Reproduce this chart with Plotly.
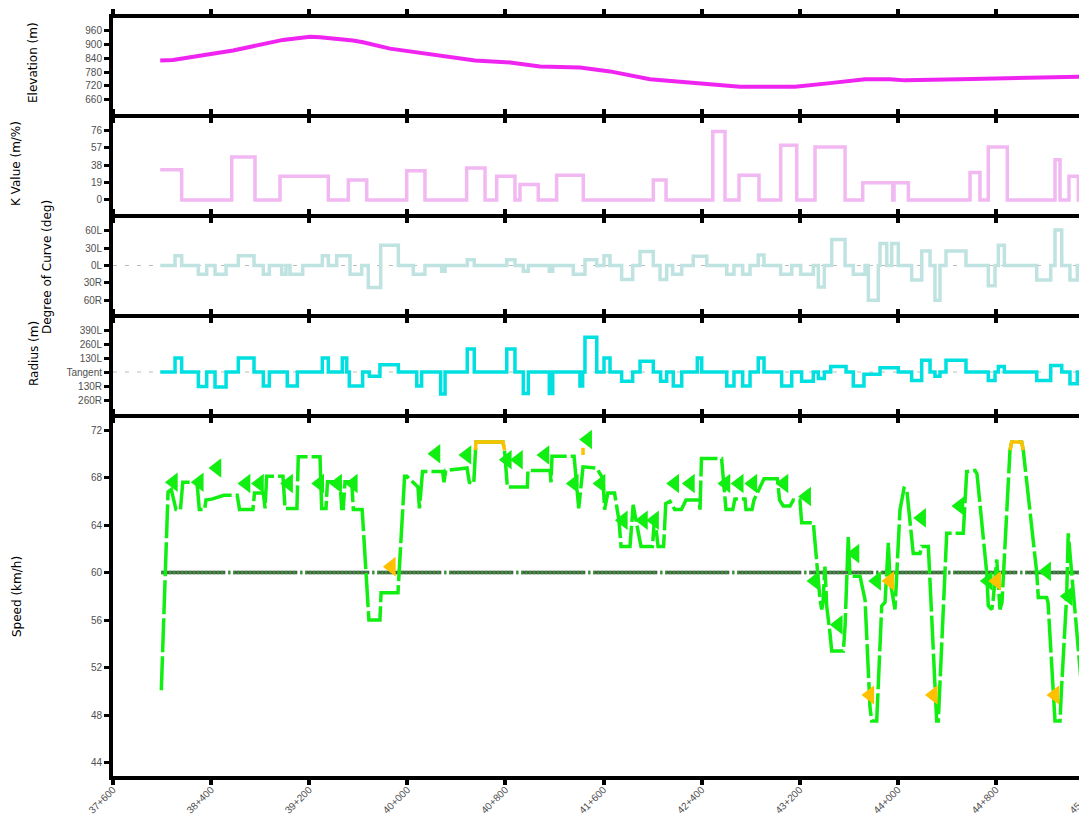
import plotly.graph_objects as go

# ---------------- data ----------------
tick_ch = [37600, 38400, 39200, 40000, 40800, 41600, 42400, 43200, 44000, 44800, 45600]
tick_lbl = ["37+600", "38+400", "39+200", "40+000", "40+800", "41+600",
            "42+400", "43+200", "44+000", "44+800", "45+600"]

elev_ch = [37985, 38089, 38579, 38742, 38986, 39207, 39288, 39557, 39639, 39859,
           40104, 40348, 40552, 40838, 41082, 41408, 41653, 41979, 42224, 42469,
           42713, 43162, 43447, 43733, 43936, 44059, 44507, 44833, 45160, 45486]
elev_m = [830, 833, 874, 891, 920, 934, 932, 917, 910, 882,
          864, 847, 830, 822, 804, 800, 783, 749, 740, 727,
          716, 716, 732, 749, 749, 744, 749, 753, 760, 760]

k_ch = [37985, 38160, 38568, 38758, 38962, 39356, 39519, 39669, 39995, 40144,
        40484, 40634, 40729, 40878, 40919, 41068, 41218, 41435, 42006, 42110,
        42491, 42591, 42705, 42868, 43045, 43176, 43325, 43570, 43714, 43959,
        43969, 44086, 44589, 44670, 44738, 44893, 45282, 45323, 45396, 45472, 45500]
k_val = [33, 0, 47, 0, 26, 0, 22, 0, 32, 0,
         35, 0, 26, 0, 17, 0, 27, 0, 22, 0,
         75, 0, 27, 0, 60, 0, 58, 0, 19, 0,
         19, 0, 30, 0, 58, 0, 44, 0, 26, 0, 0]

deg_ch = [37985, 38106, 38160, 38296, 38364, 38432, 38522, 38622, 38750, 38826,
          38875, 38976, 39011, 39043, 39147, 39307, 39356, 39424, 39533, 39628,
          39682, 39783, 39927, 40049, 40144, 40281, 40308, 40489, 40546, 40811,
          40878, 40946, 40987, 41158, 41186, 41354, 41449, 41545, 41604, 41653,
          41748, 41838, 41898, 42006, 42061, 42115, 42164, 42238, 42332, 42442,
          42605, 42664, 42735, 42795, 42862, 42909, 43045, 43135, 43208, 43311,
          43352, 43401, 43461, 43570, 43637, 43733, 43760, 43841, 43855, 43910,
          43950, 44004, 44113, 44195, 44263, 44303, 44344, 44393, 44556, 44738,
          44793, 44820, 44869, 45133, 45247, 45282, 45337, 45404, 45464, 45500]
deg_val = [0, 17, 0, -15, 0, -15, 0, 17, 0, -15,
           0, -15, 0, -15, 0, 17, 0, 17, -15, 0,
           -38, 35, 0, -15, 0, -10, 0, 10, 0, 10,
           0, -10, 0, -10, 0, -15, 10, 0, 17, 0,
           -24, 0, 24, 0, -24, 0, -15, 0, 16, 0,
           -15, 0, -15, 0, 18, 0, -15, 0, -15, 0,
           -37, 0, 45, 0, -15, 0, -60, 0, 38, 0,
           38, 0, -25, 25, 0, -60, 0, 25, 0, -35,
           0, 35, 0, -25, 0, 61, 0, -25, 0, 0]

rad_ch = [37985, 38106, 38160, 38296, 38364, 38432, 38522, 38622, 38750, 38826,
          38875, 39021, 39103, 39307, 39356, 39470, 39506, 39527, 39636, 39690,
          39777, 39927, 40077, 40117, 40272, 40308, 40489, 40546, 40811, 40878,
          40946, 40987, 41158, 41186, 41408, 41430, 41449, 41545, 41604, 41653,
          41748, 41838, 41898, 42006, 42066, 42115, 42169, 42238, 42365, 42401,
          42605, 42664, 42735, 42795, 42862, 42909, 43053, 43135, 43216, 43311,
          43352, 43401, 43453, 43578, 43637, 43724, 43855, 44004, 44113, 44195,
          44263, 44303, 44344, 44393, 44556, 44738, 44793, 44820, 44869, 45133,
          45247, 45337, 45404, 45464, 45500]
rad_val = [0, 130, 0, -134, 0, -140, 0, 130, 0, -130,
           0, -130, 0, 130, 0, 130, 0, -130, 0, -40,
           68, 0, -130, 0, -204, 0, 214, 0, 214, 0,
           -200, 0, -200, 0, -130, 0, 322, 0, 130, 0,
           -87, 0, 99, 0, -87, 0, -130, 0, 130, 0,
           -130, 0, -130, 0, 130, 0, -130, 0, -87, 0,
           -60, 0, 52, 0, -130, -20, 40, 0, -80, 108,
           0, -40, 0, 108, 0, -80, 0, 50, 0, -80,
           60, 0, -110, 0, 0]

design_speed = 60

spd_ch = [37994, 38049, 38075, 38114, 38150, 38169, 38285, 38304, 38347, 38358,
          38413, 38504, 38613, 38632, 38741, 38754, 38826, 38840, 38853, 38986,
          39003, 39100, 39111, 39288, 39302, 39337, 39349, 39451, 39465, 39478,
          39492, 39547, 39560, 39632, 39687, 39777, 39786, 39924, 39978, 39997,
          40087, 40099, 40124, 40288, 40299, 40313, 40487, 40506, 40542, 40556,
          40560, 40780, 40793, 40816, 40979, 40984, 41164, 41172, 41180, 41360,
          41398, 41433, 41544, 41596, 41609, 41635, 41690, 41726, 41743, 41816,
          41842, 41865, 41906, 41999, 42017, 42045, 42090, 42108, 42142, 42181,
          42235, 42273, 42379, 42387, 42399, 42563, 42591, 42599, 42654, 42672,
          42754, 42762, 42811, 42827, 42909, 43018, 43036, 43066, 43121, 43148,
          43202, 43216, 43311, 43339, 43366, 43380, 43390, 43406, 43420, 43447,
          43461, 43556, 43570, 43596, 43610, 43692, 43733, 43773, 43787, 43828,
          43841, 43869, 43896, 43923, 43936, 43977, 44018, 44051, 44073, 44126,
          44181, 44195, 44249, 44317, 44330, 44399, 44534, 44562, 44630, 44646,
          44725, 44738, 44766, 44776, 44807, 44833, 44850, 44915, 44929, 45010,
          45023, 45133, 45146, 45214, 45225, 45268, 45282, 45323, 45335, 45377,
          45390, 45500]
spd_v = [50.1, 66.8, 67.0, 65.3, 65.3, 67.6, 67.6, 65.3, 65.3, 66.1,
         66.2, 66.5, 66.5, 65.3, 65.3, 66.7, 66.7, 65.4, 68.1, 68.1,
         65.4, 65.4, 69.75, 69.75, 65.4, 65.4, 67.65, 67.65, 65.4, 65.4,
         67.65, 67.65, 65.3, 65.3, 56.0, 56.0, 58.3, 58.3, 68.1, 68.1,
         67.2, 65.4, 68.5, 68.5, 67.6, 68.6, 68.8, 67.6, 67.5, 70.3,
         71.0, 71.0, 70.3, 67.2, 67.2, 68.6, 68.6, 67.6, 69.8, 69.8,
         65.4, 68.9, 68.8, 67.9, 65.3, 66.7, 66.7, 64.4, 62.2, 62.2,
         65.7, 64.4, 62.2, 62.2, 64.7, 62.2, 62.2, 65.8, 66.0, 65.3,
         65.3, 66.1, 66.1, 65.3, 69.6, 69.6, 66.4, 65.3, 65.3, 66.2,
         66.2, 65.3, 65.3, 66.1, 67.9, 67.9, 66.1, 65.6, 65.6, 66.1,
         66.1, 64.2, 64.2, 60.5, 57.7, 56.9, 57.5, 60.5, 57.2, 54.9,
         53.4, 53.4, 55.5, 63.0, 59.7, 59.7, 57.7, 48.7, 47.5, 47.5,
         50.2, 57.2, 57.5, 62.5, 59.4, 56.9, 65.3, 67.1, 67.0, 61.6,
         61.6, 62.2, 62.2, 47.5, 47.5, 63.3, 63.3, 68.5, 68.6, 68.3,
         60.0, 57.2, 56.9, 57.5, 61.1, 56.9, 57.5, 70.3, 71.0, 71.0,
         70.3, 60.0, 57.9, 57.9, 57.5, 50.2, 47.5, 47.5, 50.2, 58.0,
         63.3, 50.2]

over_ch = [40556, 40560, 40780, 40793, None, 44915, 44929, 45010, 45023, None, 41433, 41433]
over_v = [70.3, 71.0, 71.0, 70.3, None, 70.3, 71.0, 71.0, 70.3, None, 69.9, 70.5]

flag_ch = [38093, 38304, 38448, 38685, 38795, 39032, 39286, 39432, 39560, 40234,
           40487, 40816, 40907, 41123, 41471, 41362, 41580, 41762, 41926, 42017,
           42181, 42309, 42599, 42707, 42818, 43072, 43257, 43325, 43515, 43651,
           43828, 44195, 44507, 44738, 45214, 45390]
flag_v = [67.6, 67.6, 68.8, 67.5, 67.5, 67.5, 67.5, 67.5, 67.5, 70.0,
          69.9, 69.5, 69.5, 69.9, 71.2, 67.5, 67.5, 64.4, 64.4, 64.4,
          67.5, 67.5, 67.5, 67.5, 67.5, 67.5, 66.4, 59.3, 55.6, 61.6,
          59.3, 64.6, 65.6, 59.3, 60.1, 58.0]

warn_ch = [39870, 43773, 43936, 44290, 44807, 45282]
warn_v = [60.5, 49.7, 59.3, 49.7, 59.3, 49.7]

# ---------------- layout geometry ----------------
# the page body adds an 8px offset; geometry below is in figure pixels
OFF = 8
W, H = 1087, 815
ML, MR, MT, MB = 105, 1, 10, 47
PH = H - MT - MB
PW = W - ML - MR
panels_px = [(18, 114), (118, 214), (218, 314), (318, 414), (418, 776)]  # screen px


def ydom(a, b):
    a, b = a - OFF, b - OFF
    return [(H - MB - b) / PH, (H - MB - a) / PH]


def px_x(px):
    return (px - OFF - ML) / PW


def px_y(py):
    return (H - MB - (py - OFF)) / PH


X_RANGE = [37600, 45600]

GREEN = '#11ee11'
ORANGE = '#ffc000'
TICKFONT = dict(family='Liberation Sans, Arial, sans-serif', size=10, color='#505050')
TITLEFONT = dict(family='DejaVu Sans, Verdana, sans-serif', size=12, color='#000000')

fig = go.Figure()

fig.add_trace(go.Scatter(x=elev_ch, y=elev_m, mode='lines',
                         line=dict(color='#f024f0', width=4), xaxis='x', yaxis='y'))
fig.add_trace(go.Scatter(x=k_ch, y=k_val, mode='lines',
                         line=dict(color='#f2b8f2', width=3.5, shape='hv'), xaxis='x2', yaxis='y2'))
fig.add_trace(go.Scatter(x=deg_ch, y=deg_val, mode='lines',
                         line=dict(color='#bfe3e1', width=3.5, shape='hv'), xaxis='x3', yaxis='y3'))
fig.add_trace(go.Scatter(x=rad_ch, y=rad_val, mode='lines',
                         line=dict(color='#00e0e0', width=3.5, shape='hv'), xaxis='x4', yaxis='y4'))

# design speed line (two overlapped patterns)
ds_x = [spd_ch[0], spd_ch[-1]]
ds_y = [design_speed, design_speed]
fig.add_trace(go.Scatter(x=ds_x, y=ds_y, mode='lines',
                         line=dict(color='#555555', width=3.5, dash='64px,3px,2px,3px'),
                         xaxis='x5', yaxis='y5'))
green_dash = ",".join(["2px,2px"] * 16) + ",0px,3px,2px,3px"
fig.add_trace(go.Scatter(x=ds_x, y=ds_y, mode='lines',
                         line=dict(color='#2f9a2f', width=3.5, dash=green_dash),
                         xaxis='x5', yaxis='y5'))

fig.add_trace(go.Scatter(x=spd_ch, y=spd_v, mode='lines',
                         line=dict(color=GREEN, width=3.5, dash='34px,4px'),
                         xaxis='x5', yaxis='y5'))
fig.add_trace(go.Scatter(x=over_ch, y=over_v, mode='lines', connectgaps=False,
                         line=dict(color=ORANGE, width=3.5),
                         xaxis='x5', yaxis='y5'))
fig.add_trace(go.Scatter(x=flag_ch, y=flag_v, mode='markers',
                         marker=dict(symbol='triangle-left', size=17, color=GREEN),
                         xaxis='x5', yaxis='y5'))
fig.add_trace(go.Scatter(x=warn_ch, y=warn_v, mode='markers',
                         marker=dict(symbol='triangle-left', size=17, color=ORANGE),
                         xaxis='x5', yaxis='y5'))

layout = dict(width=W, height=H, margin=dict(l=ML, r=MR, t=MT, b=MB, autoexpand=False),
              plot_bgcolor='white', paper_bgcolor='white', showlegend=False)

y_specs = [
    dict(range=[597.8, 1015.2], tickvals=[660, 720, 780, 840, 900, 960]),
    dict(range=[-15.4, 89.9], tickvals=[0, 19, 38, 57, 76]),
    dict(range=[-83.6, 81.9], tickvals=[-60, -30, 0, 30, 60],
         ticktext=['60R', '30R', '0L', '30L', '60L']),
    dict(range=[-390, 501.4], tickvals=[-260, -130, 0, 130, 260, 390],
         ticktext=['260R', '130R', 'Tangent', '130L', '260L', '390L']),
    dict(range=[42.88, 73.01], tickvals=[44, 48, 52, 56, 60, 64, 68, 72]),
]

for i in range(5):
    sfx = '' if i == 0 else str(i + 1)
    a, b = panels_px[i]
    layout['xaxis' + sfx] = dict(
        domain=[0, 1], anchor='y' + sfx, range=X_RANGE, automargin=False,
        tickmode='array', tickvals=tick_ch, ticktext=tick_lbl,
        showticklabels=(i == 4), tickangle=-45, tickfont=TICKFONT,
        ticklabelstandoff=-5, ticklabeloverflow='allow',
        showline=True, linecolor='black', linewidth=4, mirror='ticks',
        ticks='outside', ticklen=5, tickwidth=4, tickcolor='black',
        showgrid=False, zeroline=False, fixedrange=True)
    yd = dict(domain=ydom(a, b), anchor='x' + sfx, tickmode='array', automargin=False,
              tickfont=TICKFONT, showline=True, linecolor='black', linewidth=4,
              mirror=False, ticks='outside', ticklen=5, tickwidth=3,
              tickcolor='black', showgrid=False, zeroline=False, fixedrange=True)
    yd.update(y_specs[i])
    layout['yaxis' + sfx] = yd

fig.update_layout(**layout)

# dashed reference lines at zero (curve panels)
for ax in ['3', '4']:
    fig.add_shape(type='line', xref='x' + ax, yref='y' + ax,
                  x0=X_RANGE[0], x1=X_RANGE[1], y0=0, y1=0,
                  line=dict(color='#bbbbbb', width=1, dash='4px,8px'), layer='below')

titles = [("Elevation (m)", 33, 63), ("K Value (m/%)", 16, 164),
          ("Degree of Curve (deg)", 47, 267), ("Radius (m)", 34, 354),
          ("Speed (km/h)", 17, 597)]
for txt, px, py in titles:
    fig.add_annotation(text=txt, xref='paper', yref='paper', x=px_x(px), y=px_y(py),
                       xanchor='center', yanchor='middle', textangle=-90,
                       showarrow=False, font=TITLEFONT)

fig.write_html("out.html")
